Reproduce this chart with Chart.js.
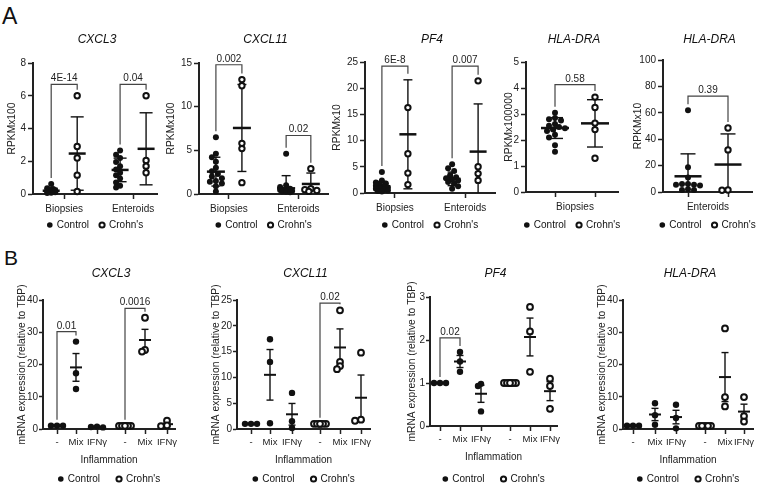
<!DOCTYPE html>
<html>
<head>
<meta charset="utf-8">
<script src="https://cdn.jsdelivr.net/npm/chart.js@4"></script>
<style>
  body { margin: 0; background: #fff; width: 764px; height: 487px; overflow: hidden; font-family: "Liberation Sans", Arial, sans-serif; }
  canvas { position: absolute; left: 0; top: 0; }
  .lbl { position: absolute; line-height: 1; color: #111; }
</style>
</head>
<body>
<div class="lbl" style="left:2px; top:5px; font-size:23px">A</div>
<div class="lbl" style="left:4px; top:247px; font-size:21px">B</div>
<script>
const FONT = '"Liberation Sans", Arial, sans-serif';

// ---- A: RNA-seq (mean ± SD) ----
const rnaGroups = ['Biopsies', 'Enteroids'];

const cxcl3Ctrl = [[0.61, 0.35, 0.3, 0.26, 0.23, 0.2, 0.18, 0.15, 0.12, 0.1, 0.08, 0.06],
                   [2.65, 2.4, 2.2, 1.95, 1.7, 1.5, 1.3, 1.15, 0.95, 0.7, 0.5, 0.4]];
const cxcl3Crohn = [[6.0, 2.9, 2.2, 1.15, 0.15], [6.0, 2.05, 1.7, 1.3]];
const cxcl3CtrlMean = [0.2, 1.47], cxcl3CtrlSd = [0.15, 0.72];
const cxcl3CrohnMean = [2.47, 2.76], cxcl3CrohnSd = [2.24, 2.2];
const cxcl3P = ['4E-14', '0.04'], cxcl3PY = [6.7, 6.7];

const cxcl11Ctrl = [[6.5, 4.6, 4.2, 3.7, 3.0, 2.6, 2.3, 2.0, 1.8, 1.5, 1.4, 1.2, 0.9, 0.3],
                    [4.6, 1.0, 0.8, 0.6, 0.5, 0.45, 0.4, 0.35, 0.3, 0.25, 0.2]];
const cxcl11Crohn = [[13.1, 12.4, 5.8, 5.2, 1.3], [2.9, 0.6, 0.5, 0.4, 0.3]];
const cxcl11CtrlMean = [2.56, 0.65], cxcl11CtrlSd = [1.65, 1.45];
const cxcl11CrohnMean = [7.56, 1.15], cxcl11CrohnSd = [4.98, 1.25];
const cxcl11P = ['0.002', '0.02'], cxcl11PY = [14.8, 6.7];

const pf4Ctrl = [[4.0, 2.4, 2.0, 1.8, 1.6, 1.4, 1.2, 1.0, 0.9, 0.8, 0.6, 0.5, 0.4, 0.3],
                 [5.5, 4.7, 4.2, 3.4, 3.0, 2.8, 2.6, 2.4, 2.1, 1.8, 1.3, 0.8]];
const pf4Crohn = [[16.3, 7.5, 3.8, 1.6], [21.4, 5.0, 3.7, 2.4]];
const pf4CtrlMean = [1.3, 2.7], pf4CtrlSd = [0.9, 1.3];
const pf4CrohnMean = [11.2, 7.9], pf4CrohnSd = [10.4, 9.1];
const pf4P = ['6E-8', '0.007'], pf4PY = [24.2, 24.2];

const hlaBioCtrl = [[3.05, 2.85, 2.8, 2.75, 2.62, 2.55, 2.5, 2.45, 2.4, 2.35, 2.2, 2.1, 1.8, 1.55]];
const hlaBioCrohn = [[3.65, 3.25, 2.65, 2.4, 1.3]];
const hlaBioCtrlMean = [2.46], hlaBioCtrlSd = [0.4];
const hlaBioCrohnMean = [2.64], hlaBioCrohnSd = [0.91];
const hlaBioP = ['0.58'], hlaBioPY = [4.13];

const hlaEntCtrl = [[62, 18.7, 11, 6, 6, 5.5, 5.5, 5, 2, 1.5, 1.5]];
const hlaEntCrohn = [[48.5, 31.9, 1.5, 1.3]];
const hlaEntCtrlMean = [11.9], hlaEntCtrlSd = [17];
const hlaEntCrohnMean = [20.8], hlaEntCrohnSd = [23.2];
const hlaEntP = ['0.39'], hlaEntPY = [72.7];

// ---- B: qPCR, relative to TBP (mean ± SEM) ----
const inflLevels = ['-', 'Mix', 'IFNγ'];

const qCxcl3Ctrl = [[1, 1, 1], [27.1, 17.3, 12.4], [0.75, 0.6, 0.5]];
const qCxcl3Crohn = [[1, 1, 1, 1, 1, 1], [34.5, 24.5, 24.0], [2.6, 1.1, 0.9]];
const qCxcl3CtrlMean = [1, 19.1, 0.62], qCxcl3CtrlSem = [0, 4.3, 0.07];
const qCxcl3CrohnMean = [1, 27.6, 1.5], qCxcl3CrohnSem = [0, 3.3, 0.55];
const qCxcl3P = ['0.01', '0.0016'], qCxcl3PY = [30.2, 37.4];

const qCxcl11Ctrl = [[1, 1, 1], [17.4, 13.0, 1.1], [7.0, 1.5, 0.2]];
const qCxcl11Crohn = [[1, 1, 1, 1, 1, 1], [23.0, 13.0, 12.2, 11.6], [14.8, 1.8, 1.6]];
const qCxcl11CtrlMean = [1, 10.5, 2.85], qCxcl11CtrlSem = [0, 4.9, 2.1];
const qCxcl11CrohnMean = [1, 15.8, 6.06], qCxcl11CrohnSem = [0, 3.6, 4.4];
const qCxcl11P = ['0.02'], qCxcl11PY = [24.4];

const qPf4Ctrl = [[1, 1, 1], [1.72, 1.5, 1.26], [0.98, 0.93, 0.34]];
const qPf4Crohn = [[1, 1, 1, 1, 1, 1], [2.77, 2.2, 1.26], [1.1, 0.93, 0.4]];
const qPf4CtrlMean = [1, 1.5, 0.75], qPf4CtrlSem = [0, 0.14, 0.2];
const qPf4CrohnMean = [1, 2.07, 0.81], qPf4CrohnSem = [0, 0.44, 0.22];
const qPf4P = ['0.02'], qPf4PY = [2.05];

const qHlaCtrl = [[1, 1, 1], [8.0, 4.3, 1.3], [7.5, 3.4, 0.2]];
const qHlaCrohn = [[1, 1, 1, 1, 1], [31.2, 9.9, 7.0], [9.9, 4.0, 2.3]];
const qHlaCtrlMean = [1, 4.5, 3.7], qHlaCtrlSem = [0, 1.9, 2.1];
const qHlaCrohnMean = [1, 16.1, 5.4], qHlaCrohnSem = [0, 7.6, 2.3];

// layout of each panel (pixel boxes of the plot areas, slot positions on x)
const rowA = { titleY: 40, legY: 225, legGap: 10, xH: 20, tickPad: 4, xFont: 10, yTickLen: 5, yTickPad: 2,
               meanLW: 2.5, errLW: 1.4, r: 3, step: 2, maxOff: 6, minD: 5 };
const rowB = { titleY: 274, legY: 479, legGap: 16, xH: 37, tickPad: 3, xFont: 9.5, yTickLen: 4, yTickPad: 1,
               meanLW: 2, errLW: 1.4, r: 3.2, step: 3, maxOff: 7, minD: 3.2,
               xTitle: 'Inflammation', yTitle: 'mRNA expression (relative to TBP)', meanW: 12, capW: 7 };

const pairSlots = { ctrlSlots: [0, 2], crohnSlots: [1, 3] };
const oneSlots = { ctrlSlots: [0], crohnSlots: [1] };
const triSlots = { ctrlSlots: [0, 1, 2], crohnSlots: [3, 4, 5] };

const panels = [
  { ...rowA, ...pairSlots, title: 'CXCL3', yTitle: 'RPKMx100', yMax: 8, yStep: 2,
    area: { l: 33, r: 157, t: 63, b: 194 }, yW: 27, xMax: 4.77, slots: [0.7, 1.7, 3.35, 4.35],
    ticks: 'pairs', groups: rnaGroups, meanW: 17, capW: 13, maxOff: 5,
    ctrl: cxcl3Ctrl, crohn: cxcl3Crohn, ctrlMean: cxcl3CtrlMean, ctrlErr: cxcl3CtrlSd,
    crohnMean: cxcl3CrohnMean, crohnErr: cxcl3CrohnSd,
    brackets: [[0, 1, cxcl3PY[0], cxcl3P[0]], [2, 3, cxcl3PY[1], cxcl3P[1]]] },
  { ...rowA, ...pairSlots, title: 'CXCL11', yTitle: 'RPKMx100', yMax: 15, yStep: 5,
    area: { l: 199, r: 328, t: 63, b: 194 }, yW: 34, xMax: 4.96, slots: [0.65, 1.65, 3.35, 4.3],
    ticks: 'pairs', groups: rnaGroups, meanW: 18, capW: 9,
    ctrl: cxcl11Ctrl, crohn: cxcl11Crohn, ctrlMean: cxcl11CtrlMean, ctrlErr: cxcl11CtrlSd,
    crohnMean: cxcl11CrohnMean, crohnErr: cxcl11CrohnSd,
    brackets: [[0, 1, cxcl11PY[0], cxcl11P[0]], [2, 3, cxcl11PY[1], cxcl11P[1]]] },
  { ...rowA, ...pairSlots, title: 'PF4', yTitle: 'RPKMx10', yMax: 25, yStep: 5,
    area: { l: 365, r: 495, t: 62, b: 193 }, yW: 34, xMax: 5.0, slots: [0.65, 1.65, 3.35, 4.35],
    ticks: 'pairs', groups: rnaGroups, meanW: 17, capW: 9,
    ctrl: pf4Ctrl, crohn: pf4Crohn, ctrlMean: pf4CtrlMean, ctrlErr: pf4CtrlSd,
    crohnMean: pf4CrohnMean, crohnErr: pf4CrohnSd,
    brackets: [[0, 1, pf4PY[0], pf4P[0]], [2, 3, pf4PY[1], pf4P[1]]] },
  { ...rowA, ...oneSlots, title: 'HLA-DRA', yTitle: 'RPKMx100000', yMax: 5, yStep: 1,
    area: { l: 526, r: 618, t: 62, b: 192 }, yW: 23, xMax: 2.3, slots: [0.725, 1.725],
    ticks: 'single', groups: [rnaGroups[0]], meanW: 28, capW: 16, maxOff: 12,
    ctrl: hlaBioCtrl, crohn: hlaBioCrohn, ctrlMean: hlaBioCtrlMean, ctrlErr: hlaBioCtrlSd,
    crohnMean: hlaBioCrohnMean, crohnErr: hlaBioCrohnSd,
    brackets: [[0, 1, hlaBioPY[0], hlaBioP[0]]] },
  { ...rowA, ...oneSlots, title: 'HLA-DRA', yTitle: 'RPKMx10', yMax: 100, yStep: 20,
    area: { l: 663, r: 752, t: 60, b: 192 }, yW: 31, xMax: 2.225, slots: [0.625, 1.625],
    ticks: 'single', groups: [rnaGroups[1]], meanW: 27, capW: 15, maxOff: 12,
    ctrl: hlaEntCtrl, crohn: hlaEntCrohn, ctrlMean: hlaEntCtrlMean, ctrlErr: hlaEntCtrlSd,
    crohnMean: hlaEntCrohnMean, crohnErr: hlaEntCrohnSd,
    brackets: [[0, 1, hlaEntPY[0], hlaEntP[0]]] },

  { ...rowB, ...triSlots, title: 'CXCL3', yMax: 40, yStep: 10,
    area: { l: 43, r: 175, t: 300, b: 429 }, yW: 27.5, xMax: 6.6, slots: [0.7, 1.65, 2.7, 4.1, 5.1, 6.2],
    ctrl: qCxcl3Ctrl, crohn: qCxcl3Crohn, ctrlMean: qCxcl3CtrlMean, ctrlErr: qCxcl3CtrlSem,
    crohnMean: qCxcl3CrohnMean, crohnErr: qCxcl3CrohnSem,
    brackets: [[0, 1, qCxcl3PY[0], qCxcl3P[0]], [3, 4, qCxcl3PY[1], qCxcl3P[1]]] },
  { ...rowB, ...triSlots, title: 'CXCL11', yMax: 25, yStep: 5,
    area: { l: 237, r: 370, t: 300, b: 429 }, yW: 27.5, xMax: 6.65, slots: [0.7, 1.65, 2.75, 4.15, 5.15, 6.2],
    ctrl: qCxcl11Ctrl, crohn: qCxcl11Crohn, ctrlMean: qCxcl11CtrlMean, ctrlErr: qCxcl11CtrlSem,
    crohnMean: qCxcl11CrohnMean, crohnErr: qCxcl11CrohnSem,
    brackets: [[3, 4, qCxcl11PY[0], qCxcl11P[0]]] },
  { ...rowB, ...triSlots, title: 'PF4', yMax: 3, yStep: 1,
    area: { l: 430, r: 557, t: 297, b: 426 }, yW: 24.5, xMax: 6.35, slots: [0.5, 1.5, 2.55, 4.0, 5.0, 6.0],
    ctrl: qPf4Ctrl, crohn: qPf4Crohn, ctrlMean: qPf4CtrlMean, ctrlErr: qPf4CtrlSem,
    crohnMean: qPf4CrohnMean, crohnErr: qPf4CrohnSem,
    brackets: [[0, 1, qPf4PY[0], qPf4P[0]]] },
  { ...rowB, ...triSlots, title: 'HLA-DRA', yMax: 40, yStep: 10,
    area: { l: 623, r: 753, t: 300, b: 429 }, yW: 27.5, xMax: 6.5, slots: [0.5, 1.6, 2.65, 4.1, 5.1, 6.05],
    ctrl: qHlaCtrl, crohn: qHlaCrohn, ctrlMean: qHlaCtrlMean, ctrlErr: qHlaCtrlSem,
    crohnMean: qHlaCrohnMean, crohnErr: qHlaCrohnSem,
    brackets: [] }
];

// spread points that sit at nearly the same height (beeswarm-ish), offsets in px
function swarm(vals, pxY, step, maxOff, minD) {
  const off = vals.map(() => 0), placed = [];
  const cands = [0];
  for (let k = step; k <= maxOff + 1e-6; k += step) cands.push(-k, k);
  vals.map((v, i) => i).sort((a, b) => vals[b] - vals[a]).forEach(i => {
    const yy = vals[i] * pxY;
    let best = 0, bestD = -1;
    for (const dx of cands) {
      const d = placed.reduce((m, q) => Math.min(m, Math.hypot(q[0] - dx, q[1] - yy)), Infinity);
      if (d >= minD) { best = dx; break; }
      if (d > bestD) { bestD = d; best = dx; }
    }
    placed.push([best, yy]);
    off[i] = best;
  });
  return off;
}

function seg(ctx, x1, y1, x2, y2) {
  ctx.beginPath(); ctx.moveTo(x1, y1); ctx.lineTo(x2, y2); ctx.stroke();
}

function slotStats(p, s) {
  let i = p.ctrlSlots.indexOf(s);
  if (i >= 0) return { vals: p.ctrl[i], top: p.ctrlMean[i] + p.ctrlErr[i] };
  i = p.crohnSlots.indexOf(s);
  return { vals: p.crohn[i], top: p.crohnMean[i] + p.crohnErr[i] };
}

function deco(p) {
  return {
    id: 'deco',
    beforeDatasetsDraw(chart) {
      const { ctx, scales: { x, y } } = chart;
      ctx.save();
      ctx.strokeStyle = '#111';
      [[p.ctrlSlots, p.ctrlMean, p.ctrlErr], [p.crohnSlots, p.crohnMean, p.crohnErr]].forEach(([slots, m, e]) => {
        slots.forEach((s, i) => {
          const cx = x.getPixelForValue(p.slots[s]);
          const ym = y.getPixelForValue(m[i]);
          const yt = y.getPixelForValue(m[i] + e[i]);
          const yb = y.getPixelForValue(Math.max(0, m[i] - e[i]));
          if (e[i] > 0) {
            ctx.lineWidth = p.errLW;
            seg(ctx, cx, yt, cx, yb);
            seg(ctx, cx - p.capW / 2, yt, cx + p.capW / 2, yt);
            if (m[i] - e[i] > 0) seg(ctx, cx - p.capW / 2, yb, cx + p.capW / 2, yb);
          }
          ctx.lineWidth = p.meanLW;
          seg(ctx, cx - p.meanW / 2, ym, cx + p.meanW / 2, ym);
        });
      });
      ctx.restore();
    },
    afterDraw(chart) {
      const { ctx, chartArea: a, scales: { x, y } } = chart;
      ctx.save();
      // significance brackets
      ctx.strokeStyle = '#444';
      ctx.lineWidth = 1.2;
      ctx.fillStyle = '#222';
      ctx.font = '10px ' + FONT;
      ctx.textAlign = 'center';
      ctx.textBaseline = 'alphabetic';
      p.brackets.forEach(([s1, s2, yv, txt]) => {
        const x1 = x.getPixelForValue(p.slots[s1]), x2 = x.getPixelForValue(p.slots[s2]);
        const yb = y.getPixelForValue(yv);
        const legEnd = s => {
          const st = slotStats(p, s);
          return y.getPixelForValue(Math.max(st.top, ...st.vals)) - 6;
        };
        ctx.beginPath();
        ctx.moveTo(x1, legEnd(s1)); ctx.lineTo(x1, yb); ctx.lineTo(x2, yb); ctx.lineTo(x2, legEnd(s2));
        ctx.stroke();
        ctx.fillText(txt, (x1 + x2) / 2, yb - 3);
      });
      // gene title
      ctx.font = 'italic 12px ' + FONT;
      ctx.textBaseline = 'middle';
      ctx.fillStyle = '#111';
      ctx.fillText(p.title, (a.left + a.right) / 2 + 2, p.titleY);
      // legend
      const ds = chart.data.datasets;
      ctx.font = '10px ' + FONT;
      ctx.textAlign = 'left';
      const w1 = ctx.measureText(ds[0].label).width, w2 = ctx.measureText(ds[1].label).width;
      const total = 6 + 4 + w1 + p.legGap + 6 + 4 + w2;
      let lx = (a.left + a.right) / 2 - total / 2;
      ctx.beginPath(); ctx.arc(lx + 3, p.legY, 2.8, 0, Math.PI * 2); ctx.fillStyle = '#111'; ctx.fill();
      ctx.fillText(ds[0].label, lx + 10, p.legY + 0.5);
      lx += 10 + w1 + p.legGap;
      ctx.beginPath(); ctx.arc(lx + 3, p.legY, 2.6, 0, Math.PI * 2);
      ctx.lineWidth = 2; ctx.strokeStyle = '#111'; ctx.stroke();
      ctx.fillText(ds[1].label, lx + 10, p.legY + 0.5);
      ctx.restore();
    }
  };
}

panels.forEach(p => {
  // tick positions / labels on x
  if (p.ticks === 'pairs') {
    p.tickPos = [(p.slots[0] + p.slots[1]) / 2, (p.slots[2] + p.slots[3]) / 2];
    p.tickLab = p.groups;
  } else if (p.ticks === 'single') {
    p.tickPos = [p.slots[0], (p.slots[0] + p.slots[1]) / 2, p.slots[1]];
    p.tickLab = ['', p.groups[0], ''];
    p.hideLabeled = true;
  } else {
    p.tickPos = p.slots;
    p.tickLab = inflLevels.concat(inflLevels);
  }

  const cv = document.createElement('canvas');
  cv.width = 764; cv.height = 487;
  document.body.appendChild(cv);

  const pxY = (p.area.b - p.area.t) / p.yMax;
  const pxX = (p.area.r - p.area.l) / p.xMax;
  const pts = (groups, slots) => groups.flatMap((vals, i) => {
    const off = swarm(vals, pxY, p.step, p.maxOff, p.minD);
    return vals.map((v, j) => ({ x: p.slots[slots[i]] + off[j] / pxX, y: v }));
  });

  new Chart(cv, {
    type: 'scatter',
    data: {
      datasets: [
        { label: 'Control', data: pts(p.ctrl, p.ctrlSlots), pointRadius: p.r,
          pointBackgroundColor: '#111', pointBorderWidth: 0, clip: false },
        { label: "Crohn's", data: pts(p.crohn, p.crohnSlots), pointRadius: p.r - 0.3,
          pointBackgroundColor: '#fff', pointBorderColor: '#111', pointBorderWidth: 2, clip: false }
      ]
    },
    options: {
      responsive: false,
      animation: false,
      events: [],
      layout: {
        autoPadding: false,
        padding: { left: p.area.l - p.yW, right: 764 - p.area.r, top: p.area.t, bottom: 487 - p.area.b - p.xH }
      },
      plugins: { legend: { display: false }, tooltip: { enabled: false } },
      scales: {
        x: {
          type: 'linear', min: 0, max: p.xMax,
          afterFit: s => { s.height = p.xH; },
          afterBuildTicks: s => { s.ticks = p.tickPos.map(v => ({ value: v })); },
          ticks: { callback: (v, i) => p.tickLab[i], font: { family: FONT, size: p.xFont }, color: '#222',
                   padding: p.tickPad, maxRotation: 0, autoSkip: false },
          grid: { drawOnChartArea: false, tickLength: 5, tickWidth: 1.5,
                  tickColor: c => (p.hideLabeled && c.tick && c.tick.label) ? 'rgba(0,0,0,0)' : '#222' },
          border: { color: '#222', width: 2 },
          title: { display: !!p.xTitle, text: p.xTitle, font: { family: FONT, size: 10 }, color: '#222', padding: 0 }
        },
        y: {
          min: 0, max: p.yMax,
          afterFit: s => { s.width = p.yW; },
          ticks: { stepSize: p.yStep, font: { family: FONT, size: 10 }, color: '#222', padding: p.yTickPad },
          grid: { drawOnChartArea: false, tickLength: p.yTickLen, tickWidth: 1.5, tickColor: '#222' },
          border: { color: '#222', width: 2 },
          title: { display: true, text: p.yTitle, font: { family: FONT, size: 10.3 }, color: '#222', padding: 0 }
        }
      }
    },
    plugins: [deco(p)]
  });
});
</script>
</body>
</html>
